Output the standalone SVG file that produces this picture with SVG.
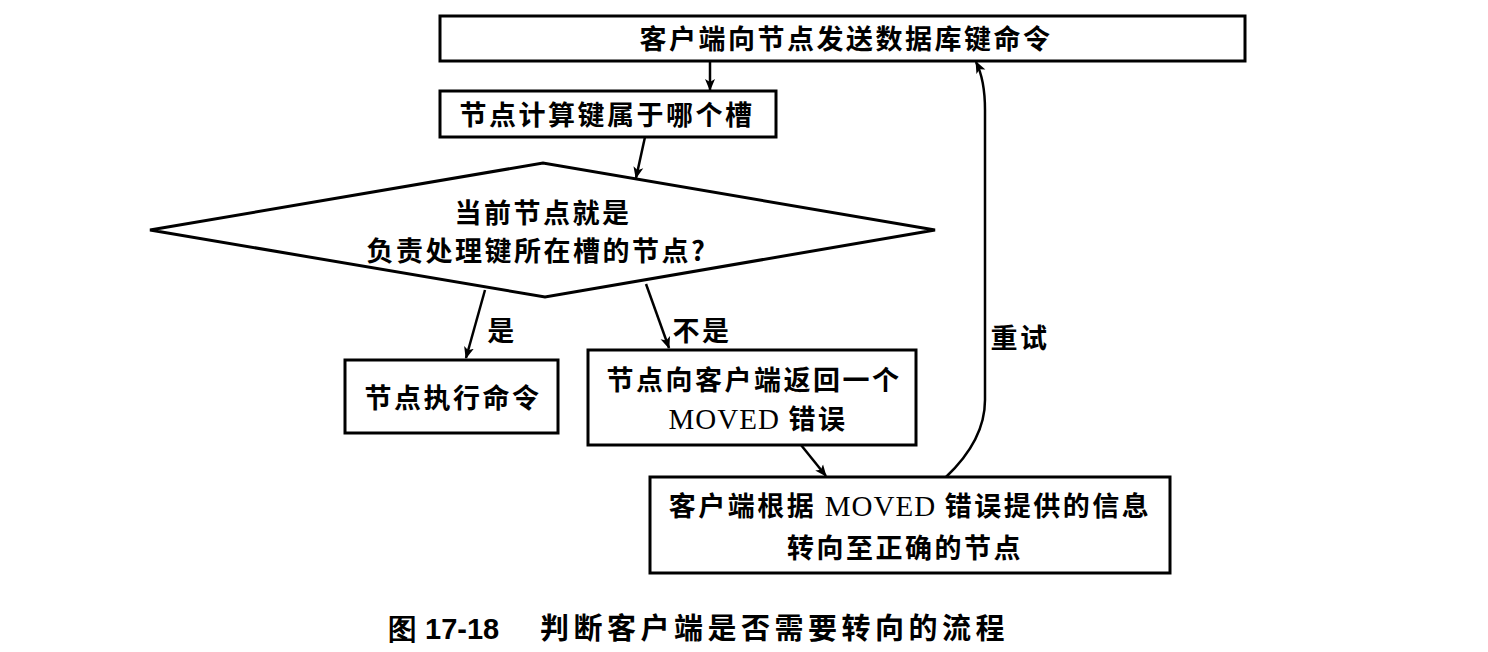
<svg xmlns="http://www.w3.org/2000/svg" width="1488" height="652" viewBox="0 0 1488 652">
<defs>
<marker id="ah" viewBox="0 0 12 12" refX="11" refY="6" markerWidth="12" markerHeight="12" markerUnits="userSpaceOnUse" orient="auto">
<path d="M0,1 L12,6 L0,11 L3,6 Z" fill="#000"/>
</marker>
</defs>
<style>
.box{fill:#fff;stroke:#000;stroke-width:3}
.t{font-family:"Noto Sans CJK SC","Liberation Sans",sans-serif;font-weight:bold;font-size:27px;fill:#000;text-anchor:middle;letter-spacing:2.5px}
.m{font-family:"Liberation Serif",serif;font-weight:normal;font-size:29px;letter-spacing:1px}
.c{stroke:#000;stroke-width:2.5;fill:none;marker-end:url(#ah)}
.cap{font-family:"Noto Sans CJK SC","Liberation Sans",sans-serif;font-weight:bold;font-size:29px;fill:#000;letter-spacing:4.5px}
.capn{font-family:"Liberation Sans",sans-serif;font-weight:bold;font-size:29px;fill:#000}
</style>
<rect width="1488" height="652" fill="#fff"/>
<g id="n1">
<rect class="box" x="440" y="16" width="805" height="45"/>
<text class="t" x="846" y="49">客户端向节点发送数据库键命令</text>
</g>
<g id="n2">
<rect class="box" x="440" y="91" width="336" height="46"/>
<text class="t" x="607" y="125">节点计算键属于哪个槽</text>
</g>
<g id="n3">
<polygon class="box" points="150,230 543,163 935,230 545,297"/>
<text class="t" x="543" y="223">当前节点就是</text>
<text class="t" x="537" y="261">负责处理键所在槽的节点?</text>
</g>
<g id="n4">
<rect class="box" x="345" y="360" width="213" height="73"/>
<text class="t" x="453" y="408">节点执行命令</text>
</g>
<g id="n5">
<rect class="box" x="588" y="350" width="328" height="95"/>
<text class="t" x="754" y="390">节点向客户端返回一个</text>
<text class="t" x="758" y="429"><tspan class="m">MOVED</tspan> 错误</text>
</g>
<g id="n6">
<rect class="box" x="650" y="477" width="520" height="96"/>
<text class="t" x="910" y="516">客户端根据 <tspan class="m">MOVED</tspan> 错误提供的信息</text>
<text class="t" x="905" y="558">转向至正确的节点</text>
</g>
<g id="edges">
<path class="c" d="M710,61 L710,90"/>
<path class="c" d="M645,137 L636,178"/>
<path class="c" d="M485,290 L466,358"/>
<path class="c" d="M646,284 L669,348"/>
<path class="c" d="M801,445 L826,476"/>
<path class="c" d="M946,477 Q985,440 985,400 L985,110 Q985,80 976,62"/>
<text class="t" x="1020" y="348">重试</text>
<text class="t" x="502" y="341">是</text>
<text class="t" x="702" y="341">不是</text>
</g>
<text class="capn" x="388" y="639">图 17-18</text>
<text class="cap" x="540" y="639">判断客户端是否需要转向的流程</text>
</svg>
